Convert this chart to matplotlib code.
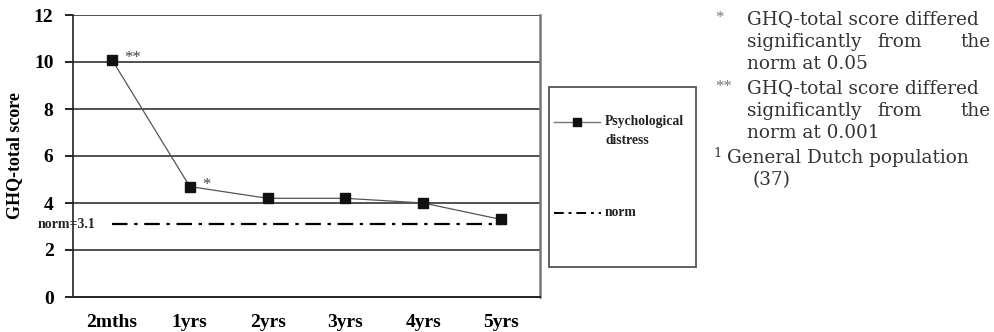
import matplotlib.pyplot as plt
from matplotlib.lines import Line2D

# GHQ-total score over follow-up
timepoints = ["2mths", "1yrs", "2yrs", "3yrs", "4yrs", "5yrs"]
ghq_scores = [10.1, 4.7, 4.2, 4.2, 4.0, 3.3]
significance = ["**", "*", "", "", "", ""]
norm_value = 3.1
y_ticks = [0, 2, 4, 6, 8, 10, 12]

footnotes = [
    ("*", ["GHQ-total score differed", "significantly|from|the", "norm at 0.05"]),
    ("**", ["GHQ-total score differed", "significantly|from|the", "norm at 0.001"]),
    ("1", ["General Dutch population", "(37)"]),
]

W, H = 994, 332
fig = plt.figure(figsize=(W / 100, H / 100), dpi=100)
ax = fig.add_axes([73 / W, 1 - 297 / H, (540 - 73) / W, (297 - 15) / H])

serif = "Liberation Serif"
x = list(range(len(timepoints)))

# horizontal gridlines
for yv in y_ticks[1:]:
    ax.axhline(yv, color="#333333", lw=1.2, zorder=1)

# norm reference line
ax.plot([x[0], x[-1]], [norm_value, norm_value], color="black", lw=1.6,
        dashes=(7, 3, 1.5, 3), zorder=2)

# psychological distress series
ax.plot(x, ghq_scores, color="#555555", lw=0.9, marker="s", markersize=7.5,
        markerfacecolor="#111111", markeredgecolor="#111111", zorder=3)

for xi, yi, s in zip(x, ghq_scores, significance):
    if s:
        ax.text(xi + 0.16, yi + 0.05, s, fontsize=12, family=serif,
                color="#444444", va="center", ha="left")

ax.set_xlim(-0.5, len(timepoints) - 0.5)
ax.set_ylim(0, 12)
ax.set_yticks(y_ticks)
ax.set_yticklabels([str(v) for v in y_ticks], fontsize=14, family=serif,
                   fontweight="bold")
ax.set_xticks(x)
ax.set_xticklabels(timepoints, fontsize=14, family=serif, fontweight="bold")
ax.tick_params(axis="y", length=6, width=1.2, pad=8)
ax.tick_params(axis="x", length=0, pad=12)

ax.spines["top"].set_visible(False)
ax.spines["left"].set_color("#222222")
ax.spines["left"].set_linewidth(1.2)
ax.spines["bottom"].set_color("#222222")
ax.spines["bottom"].set_linewidth(1.4)
ax.spines["right"].set_color("#777777")
ax.spines["right"].set_linewidth(1.8)

ax.set_ylabel("GHQ-total score", fontsize=13, family=serif, fontweight="bold",
              labelpad=8)

fig.text(38 / W, 1 - 224 / H, "norm=3.1", fontsize=10, family=serif,
         fontweight="bold", va="center", ha="left", color="#222222")

# legend box
lx0, lx1, ly0, ly1 = 549, 696, 87, 267
box = plt.Rectangle((lx0 / W, 1 - ly1 / H), (lx1 - lx0) / W, (ly1 - ly0) / H,
                    transform=fig.transFigure, fill=False, edgecolor="#555555",
                    lw=1.3)
fig.patches.append(box)
fig.add_artist(Line2D([554 / W, 600 / W], [1 - 122 / H] * 2, color="#777777",
                      lw=1.0))
fig.add_artist(Line2D([577 / W], [1 - 122 / H], marker="s", markersize=6,
                      color="#111111", lw=0))
fig.text(605 / W, 1 - 122 / H, "Psychological", fontsize=9.8, family=serif,
         fontweight="bold", va="center", color="#222222")
fig.text(605 / W, 1 - 141 / H, "distress", fontsize=9.8, family=serif,
         fontweight="bold", va="center", color="#222222")
fig.add_artist(Line2D([554 / W, 601 / W], [1 - 213 / H] * 2, color="black",
                      lw=1.4, dashes=(5, 2.5, 1.5, 2.5)))
fig.text(605 / W, 1 - 213 / H, "norm", fontsize=9.8, family=serif,
         fontweight="bold", va="center", color="#222222")

# footnotes, justified across the column
note_font = "DejaVu Serif"
fs = 13.3
text_left, text_right = 747, 991
line_h = 22.6
yy = 19
for mark, lines in footnotes:
    if mark == "1":
        fig.text(713 / W, 1 - (yy - 4) / H, mark, fontsize=9.5,
                 family=note_font, va="center", ha="left", color="#333333")
    else:
        fig.text(715 / W, 1 - (yy - 1) / H, mark, fontsize=12, family=serif,
                 va="center", ha="left", color="#777777")
    for i, line in enumerate(lines):
        if mark == "1":
            lx = 727 if i == 0 else 752
        else:
            lx = text_left
        if "|" in line:
            words = line.split("|")
            fig.text(lx / W, 1 - yy / H, words[0], fontsize=fs,
                     family=note_font, va="center", ha="left", color="#333333")
            fig.text(900 / W, 1 - yy / H, words[1], fontsize=fs,
                     family=note_font, va="center", ha="center", color="#333333")
            fig.text(text_right / W, 1 - yy / H, words[2], fontsize=fs,
                     family=note_font, va="center", ha="right", color="#333333")
        else:
            fig.text(lx / W, 1 - yy / H, line, fontsize=fs, family=note_font,
                     va="center", ha="left", color="#333333")
        yy += line_h
    yy += 1.5

fig.savefig("out.png", dpi=100)
